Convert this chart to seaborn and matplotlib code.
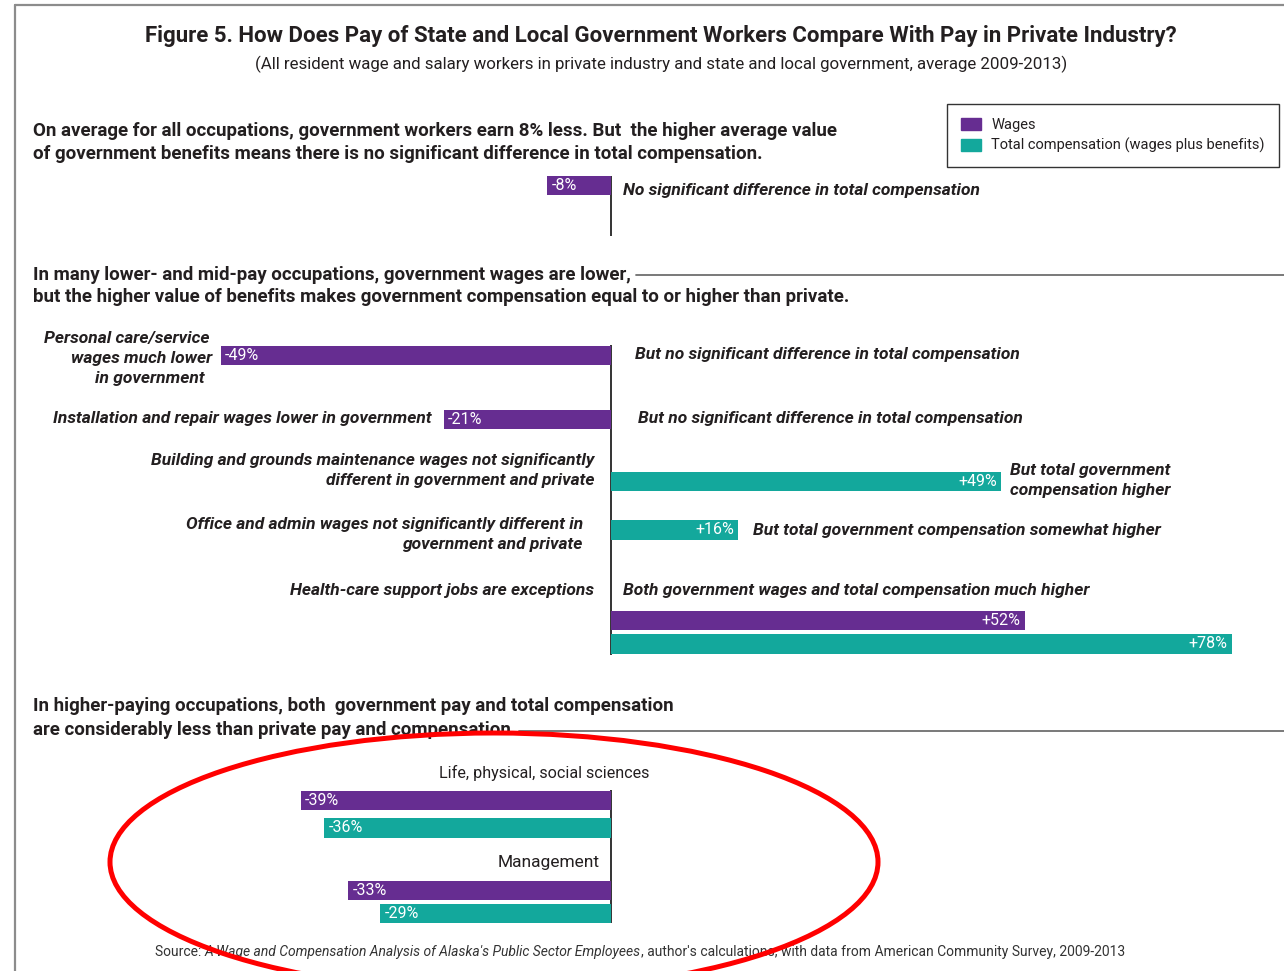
import matplotlib
matplotlib.use("Agg")
import matplotlib.pyplot as plt
import seaborn as sns
import pandas as pd
import numpy as np
from matplotlib.patches import Patch, Ellipse
from matplotlib import font_manager

# ---------------- data ----------------
wage_groups = ["All occupations", "Personal care/service", "Installation and repair",
               "Health-care support", "Life, physical, social sciences", "Management"]
wage_pct = [-8, -49, -21, 52, -39, -33]

comp_groups = ["Building and grounds maintenance", "Office and admin",
               "Health-care support", "Life, physical, social sciences", "Management"]
comp_pct = [49, 16, 78, -36, -29]

series_names = ["Wages", "Total compensation (wages plus benefits)"]

title = "Figure 5. How Does Pay of State and Local Government Workers Compare With Pay in Private Industry?"
subtitle = "(All resident wage and salary workers in private industry and state and local government, average 2009-2013)"

# ---------------- layout (pixel rows of bar centres) ----------------
W, H = 1284, 971
PX_PER_PCT = 7.96
ZERO_X = 611
BAR_H = 19.5
wage_rows = {"All occupations": 185.5, "Personal care/service": 355.5,
             "Installation and repair": 419.5, "Health-care support": 620.5,
             "Life, physical, social sciences": 800.5, "Management": 890.5}
comp_rows = {"Building and grounds maintenance": 481.5, "Office and admin": 530,
             "Health-care support": 644, "Life, physical, social sciences": 828,
             "Management": 913.5}

PURPLE = "#662D91"
TEAL = "#13A89C"
INK = "#231F20"

sns.set_theme(style="white")
names = {f.name for f in font_manager.fontManager.ttflist}
FAM = "Liberation Sans Narrow" if "Liberation Sans Narrow" in names else "Roboto"
plt.rcParams["font.family"] = [FAM, "DejaVu Sans"]

fig = plt.figure(figsize=(W / 100, H / 100), dpi=100)
fig.patch.set_facecolor("white")

# data axes: x in percent, y in pixel rows
ax = fig.add_axes([0, 0, 1, 1])
df = pd.DataFrame({
    "group": wage_groups + comp_groups,
    "pct": wage_pct + comp_pct,
    "series": [series_names[0]] * len(wage_groups) + [series_names[1]] * len(comp_groups),
})
df["row"] = [wage_rows[g] for g in wage_groups] + [comp_rows[g] for g in comp_groups]
min_gap = np.diff(np.unique(df["row"])).min()
sns.barplot(data=df, x="pct", y="row", hue="series", hue_order=series_names,
            palette={series_names[0]: PURPLE, series_names[1]: TEAL},
            orient="y", native_scale=True, dodge=False, errorbar=None,
            width=BAR_H / min_gap, saturation=1, linewidth=0, legend=False, ax=ax)
ax.set_xlim(-ZERO_X / PX_PER_PCT, (W - ZERO_X) / PX_PER_PCT)
ax.set_ylim(H, 0)
ax.axis("off")

# value labels inside bar tips
for p in ax.patches:
    v = p.get_width()
    tip = p.get_x() + v
    yc = p.get_y() + p.get_height() / 2
    lab = f"{v:+.0f}%" if v > 0 else f"{v:.0f}%"
    ax.annotate(lab, xy=(tip, yc), xytext=(3 if v < 0 else -3, 0), textcoords="offset points",
                ha="left" if v < 0 else "right", va="center", color="white", fontsize=11.5)

# zero lines for each section
for y0, y1 in [(176, 236), (345, 655), (790, 923)]:
    ax.vlines(0, y0, y1, color="#333333", lw=1.4, zorder=0.5)

# overlay canvas in pixel coordinates
cv = fig.add_axes([0, 0, 1, 1], zorder=3)
cv.set_xlim(0, W)
cv.set_ylim(H, 0)
cv.axis("off")
cv.patch.set_alpha(0)


def txt(x, y, s, size, weight="normal", style="normal", ha="left", va="center", color=INK):
    return cv.text(x, y, s, fontsize=size, fontweight=weight, fontstyle=style,
                   ha=ha, va=va, color=color)


# frame
cv.plot([15, 15], [5, H], color="#8c8c8c", lw=1.6)
cv.plot([15, W], [5, 5], color="#8c8c8c", lw=1.6)

# titles
txt(661, 36, title, 16, weight="bold", ha="center")
txt(661, 64, subtitle, 12.2, ha="center")

# legend
leg = cv.legend(handles=[Patch(color=PURPLE, label=series_names[0]),
                         Patch(color=TEAL, label=series_names[1])],
                loc="upper left", bbox_to_anchor=(947 / W, 1 - 104 / H),
                bbox_transform=fig.transFigure, frameon=True, fancybox=False,
                edgecolor="black", fontsize=10.5, handlelength=1.4, handleheight=0.95,
                handletextpad=0.7, borderpad=0.95, labelspacing=0.4, borderaxespad=0)
leg.get_frame().set_linewidth(1.0)
for t in leg.get_texts():
    t.set_color(INK)

# section 1
txt(33, 131, "On average for all occupations, government workers earn 8% less. But  the higher average value", 13.5, "bold")
txt(33, 154, "of government benefits means there is no significant difference in total compensation.", 13.5, "bold")
BI = dict(weight="bold", style="italic")
txt(623, 190, "No significant difference in total compensation", 12.5, **BI)

# section 2
h2 = txt(33, 275, "In many lower- and mid-pay occupations, government wages are lower,", 13.5, "bold")
txt(33, 297, "but the higher value of benefits makes government compensation equal to or higher than private.", 13.5, "bold")
txt(210, 339, "Personal care/service", 12.5, ha="right", **BI)
txt(212, 359, "wages much lower", 12.5, ha="right", **BI)
txt(205, 379, "in government", 12.5, ha="right", **BI)
txt(635, 354, "But no significant difference in total compensation", 12.5, **BI)
txt(432, 419, "Installation and repair wages lower in government", 12.5, ha="right", **BI)
txt(638, 418, "But no significant difference in total compensation", 12.5, **BI)
txt(594, 460, "Building and grounds maintenance wages not significantly", 12.5, ha="right", **BI)
txt(594, 480, "different in government and private", 12.5, ha="right", **BI)
txt(1010, 471, "But total government", 12.5, **BI)
txt(1010, 491, "compensation higher", 12.5, **BI)
txt(583, 524, "Office and admin wages not significantly different in", 12.5, ha="right", **BI)
txt(583, 544, "government and private", 12.5, ha="right", **BI)
txt(753, 530, "But total government compensation somewhat higher", 12.5, **BI)
txt(594, 590, "Health-care support jobs are exceptions", 12.5, ha="right", **BI)
txt(623, 591, "Both government wages and total compensation much higher", 12.5, **BI)

# section 3
txt(33, 706, "In higher-paying occupations, both  government pay and total compensation", 13.5, "bold")
h3 = txt(33, 730, "are considerably less than private pay and compensation.", 13.5, "bold")
txt(544, 773, "Life, physical, social sciences", 11.6, ha="center")
txt(600, 863, "Management", 12.5, ha="right")

# rules after headings
fig.canvas.draw()
r = fig.canvas.get_renderer()
e2 = h2.get_window_extent(r)
cv.plot([e2.x1 + 5, W], [275, 275], color="#6e6e6e", lw=1.3)
e3 = h3.get_window_extent(r)
cv.plot([e3.x1 + 3, W], [731, 731], color="#6e6e6e", lw=1.3)

# source line (mixed italic)
parts = [("Source: ", "normal"),
         ("A Wage and Compensation Analysis of Alaska's Public Sector Employees", "italic"),
         (", author's calculations, with data from American Community Survey, 2009-2013", "normal")]
objs = [txt(0, 952, s, 10, style=st, color="#333333") for s, st in parts]
fig.canvas.draw()
widths = [o.get_window_extent(r).width for o in objs]
x = 640 - sum(widths) / 2
for o, w in zip(objs, widths):
    o.set_x(x)
    x += w

# red ellipse annotation
cv.add_patch(Ellipse((494, 862), 768, 258, fill=False, edgecolor="#ff0000", lw=3.6, zorder=5))

fig.savefig("out.png", dpi=100, facecolor="white")
